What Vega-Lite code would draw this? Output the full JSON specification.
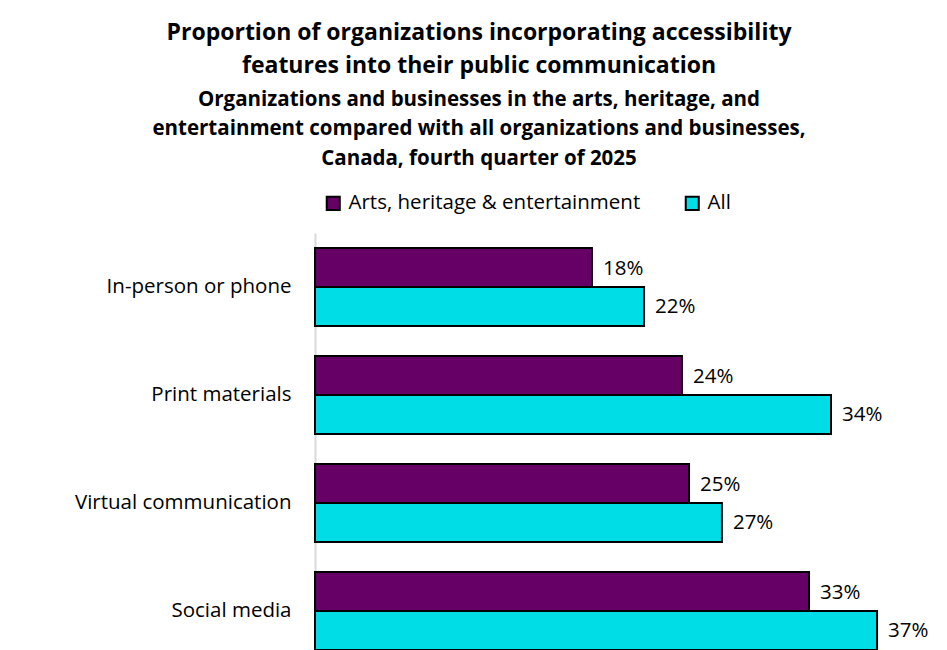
{
  "$schema": "https://vega.github.io/schema/vega-lite/v6.json",
  "width": 606,
  "height": 432,
  "autosize": {"type": "none"},
  "padding": {"left": 315, "top": 233, "right": 26, "bottom": 0},
  "background": "white",
  "config": {"view": {"stroke": null}},
  "title": {
    "text": ["Proportion of organizations incorporating accessibility", "features into their public communication"],
    "subtitle": ["Organizations and businesses in the arts, heritage, and", "entertainment compared with all organizations and businesses,", "Canada, fourth quarter of 2025"],
    "anchor": "middle",
    "frame": "group",
    "dx": -139,
    "offset": 24,
    "font": "Open Sans",
    "fontSize": 23,
    "fontWeight": "bold",
    "lineHeight": 33,
    "color": "#000000",
    "subtitleFont": "Open Sans",
    "subtitleFontSize": 20.5,
    "subtitleFontWeight": "bold",
    "subtitleLineHeight": 29.5,
    "subtitleColor": "#000000",
    "subtitlePadding": 12
  },
  "data": {
    "values": [
      {"category": "In-person or phone", "group": "Arts, heritage & entertainment", "value": 18.28, "label": "18%"},
      {"category": "In-person or phone", "group": "All", "value": 21.72, "label": "22%"},
      {"category": "Print materials", "group": "Arts, heritage & entertainment", "value": 24.22, "label": "24%"},
      {"category": "Print materials", "group": "All", "value": 34.06, "label": "34%"},
      {"category": "Virtual communication", "group": "Arts, heritage & entertainment", "value": 24.69, "label": "25%"},
      {"category": "Virtual communication", "group": "All", "value": 26.86, "label": "27%"},
      {"category": "Social media", "group": "Arts, heritage & entertainment", "value": 32.61, "label": "33%"},
      {"category": "Social media", "group": "All", "value": 37.1, "label": "37%"}
    ]
  },
  "encoding": {
    "y": {
      "field": "category",
      "type": "nominal",
      "sort": ["In-person or phone", "Print materials", "Virtual communication", "Social media"],
      "scale": {"paddingInner": 0.278, "paddingOuter": 0.139},
      "axis": {
        "title": null,
        "ticks": false,
        "labelFont": "Open Sans",
        "labelFontSize": 20.5,
        "labelColor": "#000000",
        "labelPadding": 24,
        "labelLimit": 300,
        "domainColor": "#d9d9d9",
        "domainWidth": 2
      }
    },
    "yOffset": {
      "field": "group",
      "type": "nominal",
      "sort": ["Arts, heritage & entertainment", "All"],
      "scale": {"paddingInner": 0, "paddingOuter": 0}
    },
    "x": {
      "field": "value",
      "type": "quantitative",
      "scale": {"domain": [0, 40], "nice": false},
      "axis": null
    }
  },
  "layer": [
    {
      "mark": {"type": "bar", "stroke": "#000000", "strokeWidth": 2},
      "encoding": {
        "color": {
          "field": "group",
          "type": "nominal",
          "sort": ["Arts, heritage & entertainment", "All"],
          "scale": {"domain": ["Arts, heritage & entertainment", "All"], "range": ["#660066", "#00dde6"]},
          "legend": {
            "title": null,
            "orient": "none",
            "direction": "horizontal",
            "legendX": 8,
            "legendY": -40,
            "symbolType": "square",
            "symbolSize": 170,
            "symbolStrokeColor": "#000000",
            "symbolStrokeWidth": 2,
            "labelFont": "Open Sans",
            "labelFontSize": 20.5,
            "labelColor": "#000000",
            "labelLimit": 400,
            "labelOffset": 5,
            "columnPadding": 40,
            "symbolOffset": 0
          }
        }
      }
    },
    {
      "mark": {"type": "text", "align": "left", "baseline": "middle", "dx": 11, "dy": 1, "font": "Open Sans", "fontSize": 20.5, "color": "#000000"},
      "encoding": {"text": {"field": "label"}}
    }
  ]
}
